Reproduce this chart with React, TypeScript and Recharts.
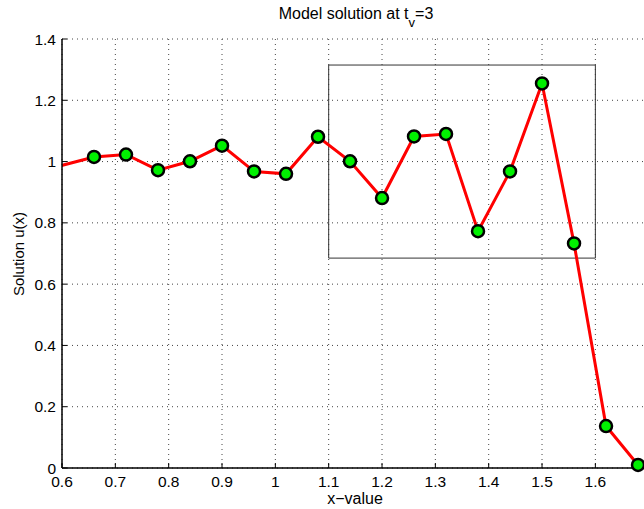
import React from "react";
import {
    LineChart,
    Line,
    XAxis,
    YAxis,
    CartesianGrid,
    ReferenceArea,
} from "recharts";

// grid points of the solution (the first one sits left of the visible range)
const xValues = [0.54, 0.66, 0.72, 0.78, 0.84, 0.9, 0.96, 1.02, 1.08, 1.14, 1.2, 1.26, 1.32, 1.38, 1.44, 1.5, 1.56, 1.62, 1.68];
const uValues = [0.96, 1.015, 1.023, 0.972, 1.001, 1.052, 0.968, 0.96, 1.081, 1.001, 0.881, 1.082, 1.09, 0.773, 0.968, 1.255, 0.733, 0.137, 0.01];

const xTicks = [0.6, 0.7, 0.8, 0.9, 1, 1.1, 1.2, 1.3, 1.4, 1.5, 1.6];
const yTicks = [0, 0.2, 0.4, 0.6, 0.8, 1, 1.2, 1.4];

// zoom box drawn on the plot
const boxX = [1.1, 1.6];
const boxY = [0.685, 1.315];

const data = xValues.map((x, i) => ({ x, u: uValues[i] }));

const FONT = "'Liberation Sans', Arial, Helvetica, sans-serif";
const TICK_FS = 15.5;

const BottomTick = ({ x, y, payload }: any) => (
    <g>
        <line x1={x} x2={x} y1={y} y2={y - 5} stroke="#000" strokeWidth={1} />
        <text x={x} y={y + 19} textAnchor="middle" fontSize={TICK_FS} fontFamily={FONT} fill="#000">
            {String(payload.value)}
        </text>
    </g>
);

const TopTick = ({ x, y }: any) => (
    <line x1={x} x2={x} y1={y} y2={y + 5} stroke="#000" strokeWidth={1} />
);

const LeftTick = ({ x, y, payload }: any) => (
    <g>
        <line x1={x} x2={x + 5} y1={y} y2={y} stroke="#000" strokeWidth={1} />
        <text x={x - 6} y={y + 5.5} textAnchor="end" fontSize={TICK_FS} fontFamily={FONT} fill="#000">
            {String(payload.value)}
        </text>
    </g>
);

export default function App() {
    return (
        <div
            style={{
                position: "absolute",
                left: 0,
                top: 0,
                width: 644,
                height: 509,
                overflow: "hidden",
                background: "#fff",
                fontFamily: FONT,
            }}
        >
            <LineChart
                width={660}
                height={509}
                data={data}
                margin={{ top: 39, right: 11.3, left: 0, bottom: 0 }}
            >
                <CartesianGrid stroke="#444" strokeDasharray="1 4" strokeWidth={1} />
                <XAxis
                    dataKey="x"
                    type="number"
                    domain={[0.6, 1.7]}
                    allowDataOverflow
                    ticks={xTicks}
                    height={41}
                    tickSize={0}
                    tickMargin={0}
                    tickLine={false}
                    tick={<BottomTick />}
                    axisLine={{ stroke: "#000", strokeWidth: 1.5 }}
                />
                <XAxis
                    xAxisId="top"
                    orientation="top"
                    dataKey="x"
                    type="number"
                    domain={[0.6, 1.7]}
                    allowDataOverflow
                    ticks={xTicks}
                    height={0}
                    tickSize={0}
                    tickMargin={0}
                    tickLine={false}
                    tick={<TopTick />}
                    axisLine={{ stroke: "#000", strokeWidth: 1.5 }}
                />
                <YAxis
                    type="number"
                    domain={[0, 1.4]}
                    allowDataOverflow
                    ticks={yTicks}
                    width={62}
                    tickSize={0}
                    tickMargin={0}
                    tickLine={false}
                    tick={<LeftTick />}
                    axisLine={{ stroke: "#000", strokeWidth: 1.5 }}
                />
                <ReferenceArea
                    x1={boxX[0]}
                    x2={boxX[1]}
                    y1={boxY[0]}
                    y2={boxY[1]}
                    fill="none"
                    fillOpacity={0}
                    stroke="#333"
                    strokeWidth={1}
                    ifOverflow="visible"
                />
                <Line
                    type="linear"
                    dataKey="u"
                    stroke="#ff0000"
                    strokeWidth={3}
                    dot={{ r: 6, fill: "#00f000", stroke: "#000", strokeWidth: 2.5, clipDot: false }}
                    activeDot={false}
                    isAnimationActive={false}
                />
            </LineChart>
            <div
                style={{
                    position: "absolute",
                    left: 356,
                    top: 6,
                    transform: "translateX(-50%)",
                    fontSize: 16,
                    lineHeight: "16px",
                    whiteSpace: "nowrap",
                    color: "#000",
                }}
            >
                Model solution at t
                <span style={{ fontSize: 13, position: "relative", top: 8 }}>v</span>
                =3
            </div>
            <div
                style={{
                    position: "absolute",
                    left: 355,
                    top: 491,
                    transform: "translateX(-50%)",
                    fontSize: 16,
                    lineHeight: "16px",
                    whiteSpace: "nowrap",
                    color: "#000",
                }}
            >
                x−value
            </div>
            <div
                style={{
                    position: "absolute",
                    left: 18,
                    top: 254,
                    transform: "translate(-50%, -50%) rotate(-90deg)",
                    fontSize: 15,
                    lineHeight: "15px",
                    whiteSpace: "nowrap",
                    color: "#000",
                }}
            >
                Solution u(x)
            </div>
        </div>
    );
}
